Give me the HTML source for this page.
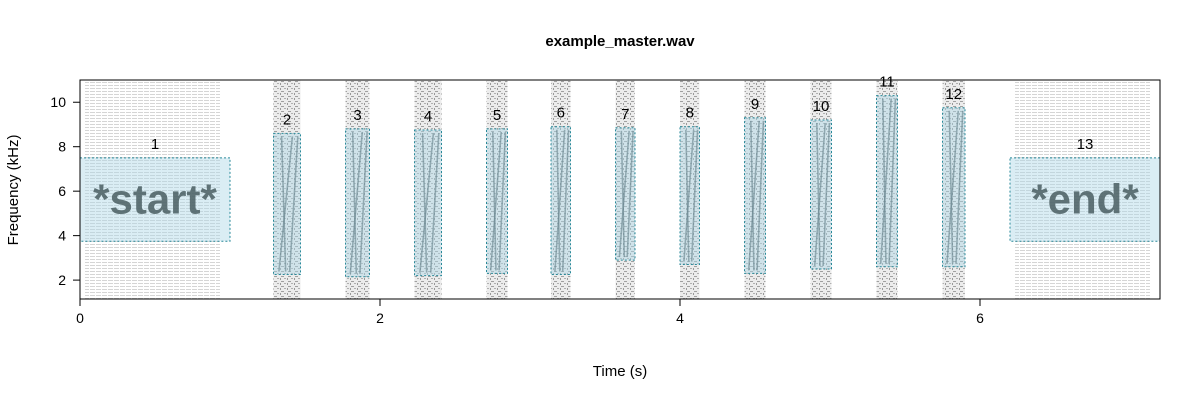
<!DOCTYPE html>
<html><head><meta charset="utf-8"><style>
body{margin:0;background:#fff;width:1200px;height:400px;overflow:hidden}
text{font-family:"Liberation Sans",sans-serif}
</style></head><body>
<svg id="chart" width="1200" height="400" xmlns="http://www.w3.org/2000/svg">
<defs>
<pattern id="hl" width="6" height="3" patternUnits="userSpaceOnUse"><rect x="0" y="1" width="5" height="1" fill="#aaa"/></pattern>
<pattern id="noise" width="7" height="5" patternUnits="userSpaceOnUse"><rect width="7" height="5" fill="#ececec"/><rect x="1" y="1" width="3" height="1" fill="#a0a0a0"/><rect x="4" y="3" width="2" height="1" fill="#b0b0b0"/><rect x="0" y="3" width="1" height="2" fill="#999"/></pattern>
</defs>
<g id="bg"></g><g id="boxes"></g><g id="axes"></g>
</svg>
<script>
const starts=[0,1.29,1.77,2.23,2.71,3.14,3.57,4.0,4.43,4.87,5.31,5.75,6.2];
const ends=[1.0,1.47,1.93,2.41,2.85,3.27,3.70,4.13,4.57,5.01,5.45,5.9,7.2];
const bottoms=[3.75,2.25,2.15,2.2,2.3,2.25,2.9,2.7,2.3,2.5,2.6,2.6,3.75];
const tops=[7.5,8.6,8.8,8.75,8.8,8.9,8.85,8.9,9.3,9.2,10.3,9.75,7.5];
const labels=["1","2","3","4","5","6","7","8","9","10","11","12","13"];
const xTicks=[0,2,4,6];
const yTicks=[2,4,6,8,10];
const L=80,R=1160,T=80,B=299,xMax=7.2,yMin=1.15,yMax=11;
const X=v=>L+v/xMax*(R-L);
const Y=v=>B-(v-yMin)/(yMax-yMin)*(B-T);
const NS="http://www.w3.org/2000/svg";
function mk(t,a,p){const e=document.createElementNS(NS,t);for(const k in a)e.setAttribute(k,a[k]);p.appendChild(e);return e;}
const bg=document.getElementById('bg'),bx=document.getElementById('boxes'),ax=document.getElementById('axes');
starts.forEach((s,i)=>{
  const x0=X(s),x1=X(ends[i]);
  const edge=(i===0||i===starts.length-1);
  let r;
  if(edge){
    r=mk('rect',{x:x0+5,y:T,width:(x1-x0)*0.9,height:B-T,fill:'url(#hl)',opacity:0.5},bg);
  }else{
    r=mk('rect',{x:x0,y:T,width:x1-x0,height:B-T,fill:'url(#noise)'},bg);
    const fr=[[0.2,0.7],[0.45,0.3],[0.6,0.9]];
    fr.forEach(f=>{
      const l=mk('line',{x1:x0+(x1-x0)*f[0],y1:Y(bottoms[i])-3,x2:x0+(x1-x0)*f[1],y2:Y(tops[i])+3,stroke:'#2d3f44','stroke-width':1.6,opacity:0.6},bg);
      
      
    });
  }
  
  
  const b=mk('rect',{x:x0,y:Y(tops[i]),width:x1-x0,height:Y(bottoms[i])-Y(tops[i]),fill:'#add8e6','fill-opacity':0.45,stroke:'#2a8a9a','stroke-width':1,'stroke-dasharray':'2,2'},bx);
  
  
  if(edge){
    const w=mk('text',{x:(x0+x1)/2,y:(Y(tops[i])+Y(bottoms[i]))/2+14,'text-anchor':'middle','font-size':42,'font-weight':'bold',fill:'#4a5e62',opacity:0.85},bx);
    w.textContent=i===0?'*start*':'*end*';
    
    
  }
  const t=mk('text',{x:(x0+x1)/2,y:Y(tops[i])-9,'text-anchor':'middle','font-size':15,fill:'#000'},bx);
  t.textContent=labels[i];
  
  
});
const fr=mk('rect',{x:L,y:T,width:R-L,height:B-T,fill:'none',stroke:'#000'},ax);


xTicks.forEach(v=>{
  const l=mk('line',{x1:X(v),x2:X(v),y1:B,y2:B+7,stroke:'#000'},ax);
  
  
  const t=mk('text',{x:X(v),y:B+24,'text-anchor':'middle','font-size':14},ax);t.textContent=v;
  
  
});
yTicks.forEach(v=>{
  const l=mk('line',{x1:L-7,x2:L,y1:Y(v),y2:Y(v),stroke:'#000'},ax);
  
  
  const t=mk('text',{x:L-14,y:Y(v)+5,'text-anchor':'end','font-size':14},ax);t.textContent=v;
  
  
});
const ti=mk('text',{x:620,y:46,'text-anchor':'middle','font-size':15,'font-weight':'bold'},ax);ti.textContent='example_master.wav';


const xl=mk('text',{x:620,y:376,'text-anchor':'middle','font-size':15},ax);xl.textContent='Time (s)';


const yl=mk('text',{x:18,y:190,'text-anchor':'middle','font-size':15,transform:'rotate(-90 18 190)'},ax);yl.textContent='Frequency (kHz)';


</script>
</body></html>
